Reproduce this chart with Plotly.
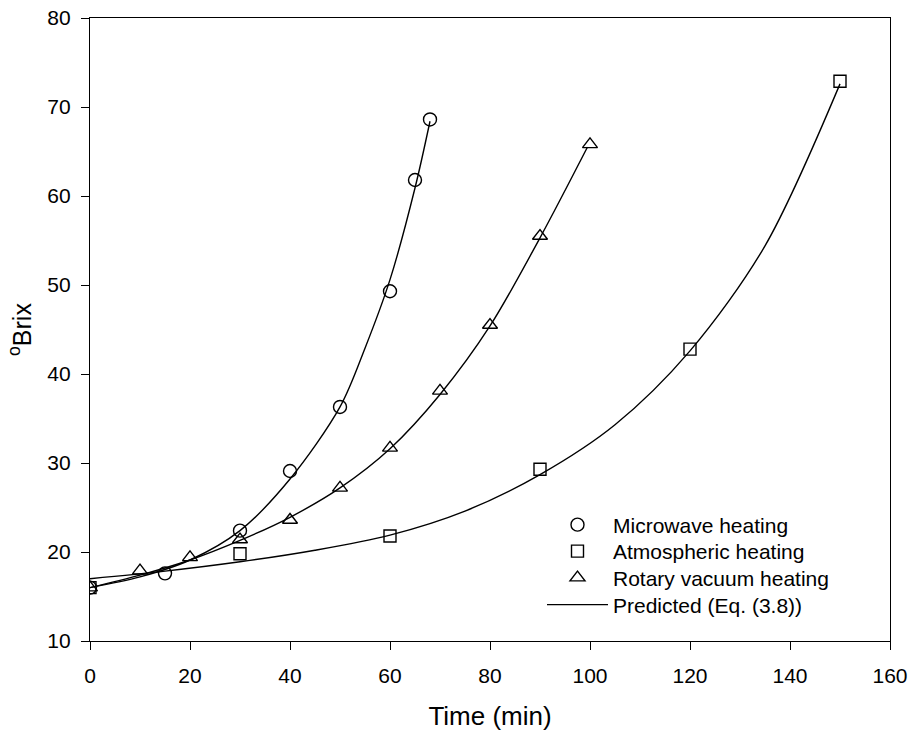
import plotly.graph_objects as go

# Measured data
mw_t = [0, 15, 30, 40, 50, 60, 65, 68]
mw_b = [16.0, 17.6, 22.4, 29.1, 36.3, 49.3, 61.8, 68.6]

atm_t = [0, 30, 60, 90, 120, 150]
atm_b = [16.0, 19.8, 21.8, 29.3, 42.8, 72.9]

rv_t = [0, 10, 20, 30, 40, 50, 60, 70, 80, 90, 100]
rv_b = [16.0, 17.9, 19.4, 21.4, 23.6, 27.2, 31.7, 38.1, 45.5, 55.5, 65.8]

# Predicted curves
pmw_t = [0, 10, 20, 30, 40, 50, 55, 60, 65, 68]
pmw_b = [16.0, 17.2, 19.1, 22.4, 28.2, 36.3, 42.9, 50.6, 60.9, 68.4]

patm_t = [0, 15, 30, 45, 60, 75, 90, 105, 120, 135, 150]
patm_b = [17.0, 17.85, 18.9, 20.2, 21.9, 24.6, 28.7, 34.3, 42.6, 54.4, 72.6]

prv_t = [0, 10, 20, 30, 40, 50, 60, 70, 80, 90, 99.5]
prv_b = [16.0, 17.4, 19.1, 21.3, 23.9, 27.2, 31.6, 37.7, 45.4, 55.3, 65.5]

x_ticks = [0, 20, 40, 60, 80, 100, 120, 140, 160]
y_ticks = [10, 20, 30, 40, 50, 60, 70, 80]

FONT = "Liberation Sans, Arial, sans-serif"
fig = go.Figure()

line_style = dict(color="black", width=1.4, shape="spline", smoothing=0.9)
fig.add_trace(go.Scatter(x=pmw_t, y=pmw_b, mode="lines", line=line_style,
                         name="Predicted (Eq. (3.8))", showlegend=False))
fig.add_trace(go.Scatter(x=patm_t, y=patm_b, mode="lines", line=line_style,
                         name="Predicted (Eq. (3.8))", showlegend=False))
fig.add_trace(go.Scatter(x=prv_t, y=prv_b, mode="lines", line=line_style,
                         name="Predicted (Eq. (3.8))", showlegend=True, legend="legend4"))

mk = dict(color="black", line=dict(color="black", width=1.4))
fig.add_trace(go.Scatter(x=mw_t, y=mw_b, mode="markers", name="Microwave heating",
                         marker=dict(symbol="circle-open", size=13, **mk), legend="legend"))
fig.add_trace(go.Scatter(x=atm_t, y=atm_b, mode="markers", name="Atmospheric heating",
                         marker=dict(symbol="square-open", size=12, **mk), legend="legend2"))
fig.add_trace(go.Scatter(x=rv_t, y=rv_b, mode="markers", name="Rotary vacuum heating",
                         marker=dict(symbol="triangle-up-open", size=13, **mk), legend="legend3"))

axis_common = dict(showline=True, linecolor="black", linewidth=1.4, mirror=True,
                   ticks="outside", ticklen=8, tickwidth=1.4, tickcolor="black",
                   showgrid=False, zeroline=False, automargin=False,
                   tickfont=dict(family=FONT, size=21, color="black"))

fig.update_xaxes(range=[0, 160], tickvals=x_ticks, ticklabelstandoff=8, **axis_common,
                 title=dict(text="Time (min)", font=dict(family=FONT, size=26, color="black"),
                            standoff=20))
fig.update_yaxes(range=[10, 80], tickvals=y_ticks, ticklabelstandoff=6, **axis_common,
                 title=dict(text="<sup>o</sup>Brix", font=dict(family=FONT, size=25, color="black"),
                            standoff=8))

def leg(y):
    return dict(x=0.565, y=y, xanchor="left", yanchor="middle",
                bgcolor="rgba(0,0,0,0)", borderwidth=0,
                font=dict(family=FONT, size=21, color="black"),
                itemwidth=61)

fig.update_layout(
    width=912, height=733,
    margin=dict(l=90, r=22, t=18, b=92),
    paper_bgcolor="white", plot_bgcolor="white",
    font=dict(family=FONT, size=21, color="black"),
    legend=leg(0.1862),
    legend2=leg(0.1437),
    legend3=leg(0.1011),
    legend4=leg(0.0578),
    showlegend=True,
)

fig.write_html("out.html")
